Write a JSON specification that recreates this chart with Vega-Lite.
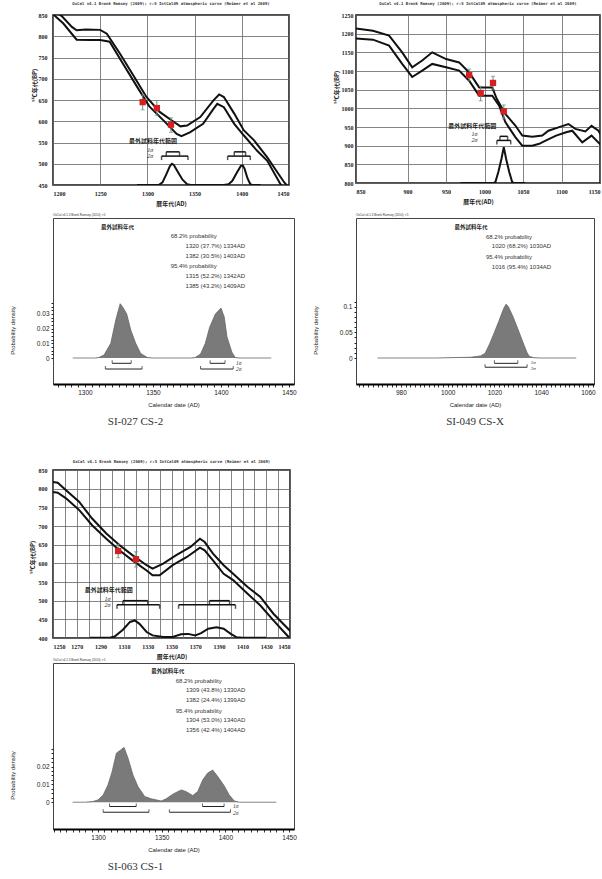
{
"$schema": "https://vega.github.io/schema/vega-lite/v6.json",
"background": "white",
"padding": {"left": 8, "top": 1, "right": 2, "bottom": 2},
"columns": 2,
"spacing": {"row": 0, "column": 62},
"align": {"row": "each", "column": "none"},
"bounds": "flush",
"config": {
  "view": {"stroke": "#333"},
  "axis": {"labelColor": "#222", "titleColor": "#222", "tickColor": "#222", "domainColor": "#111", "labelFont": "Liberation Sans", "titleFont": "Liberation Sans", "titleFontWeight": "normal"},
  "title": {"color": "#333"}
},
"datasets": {
  "A_curve": [
    {"x":1200,"y":860,"s":"hi"},{"x":1209,"y":848,"s":"hi"},{"x":1220,"y":822,"s":"hi"},{"x":1225,"y":814,"s":"hi"},{"x":1235,"y":816,"s":"hi"},{"x":1250,"y":815,"s":"hi"},{"x":1257,"y":806,"s":"hi"},{"x":1271,"y":759,"s":"hi"},{"x":1285,"y":708,"s":"hi"},{"x":1299,"y":657,"s":"hi"},{"x":1313,"y":622,"s":"hi"},{"x":1327,"y":600,"s":"hi"},{"x":1335,"y":588,"s":"hi"},{"x":1342,"y":590,"s":"hi"},{"x":1356,"y":610,"s":"hi"},{"x":1370,"y":649,"s":"hi"},{"x":1376,"y":663,"s":"hi"},{"x":1381,"y":657,"s":"hi"},{"x":1392,"y":618,"s":"hi"},{"x":1402,"y":579,"s":"hi"},{"x":1413,"y":555,"s":"hi"},{"x":1427,"y":515,"s":"hi"},{"x":1445,"y":456,"s":"hi"},{"x":1449,"y":446,"s":"hi"},
    {"x":1200,"y":852,"s":"lo"},{"x":1211,"y":830,"s":"lo"},{"x":1225,"y":792,"s":"lo"},{"x":1240,"y":791,"s":"lo"},{"x":1250,"y":791,"s":"lo"},{"x":1260,"y":787,"s":"lo"},{"x":1274,"y":736,"s":"lo"},{"x":1288,"y":685,"s":"lo"},{"x":1302,"y":635,"s":"lo"},{"x":1317,"y":602,"s":"lo"},{"x":1331,"y":570,"s":"lo"},{"x":1336,"y":565,"s":"lo"},{"x":1345,"y":574,"s":"lo"},{"x":1359,"y":594,"s":"lo"},{"x":1370,"y":629,"s":"lo"},{"x":1374,"y":641,"s":"lo"},{"x":1381,"y":633,"s":"lo"},{"x":1392,"y":594,"s":"lo"},{"x":1402,"y":567,"s":"lo"},{"x":1416,"y":531,"s":"lo"},{"x":1427,"y":507,"s":"lo"},{"x":1441,"y":452,"s":"lo"},{"x":1443,"y":446,"s":"lo"}
  ],
  "A_dist": [
    {"x":1289,"y":450},{"x":1312,"y":450},{"x":1316,"y":456},{"x":1320,"y":475},{"x":1324,"y":495},{"x":1326,"y":500},{"x":1328,"y":497},{"x":1332,"y":482},{"x":1337,"y":463},{"x":1342,"y":452},{"x":1346,"y":450},{"x":1381,"y":450},{"x":1386,"y":452},{"x":1390,"y":460},{"x":1395,"y":480},{"x":1399,"y":495},{"x":1401,"y":496},{"x":1403,"y":488},{"x":1406,"y":466},{"x":1409,"y":452},{"x":1411,"y":450},{"x":1420,"y":450}
  ],
  "A_br": [{"x":1320,"x2":1334,"y":528},{"x":1392,"x2":1404,"y":528},{"x":1315,"x2":1343,"y":518},{"x":1385,"x2":1409,"y":518}],
  "A_lab": [{"x":1306,"y":553,"t":"最外試料年代範囲"}],
  "A_sig": [{"x":1303,"y":532,"t":"1σ"},{"x":1303,"y":519,"t":"2σ"}],
  "A_err": [{"x":1295,"y":627,"y2":662},{"x":1310,"y":614,"y2":649},{"x":1325,"y":574,"y2":608}],
  "A_pt": [{"x":1295,"y":645},{"x":1310,"y":631},{"x":1325,"y":592}],
  "B_curve": [
    {"x":833,"y":1214,"s":"hi"},{"x":855,"y":1208,"s":"hi"},{"x":876,"y":1195,"s":"hi"},{"x":893,"y":1150,"s":"hi"},{"x":906,"y":1110,"s":"hi"},{"x":919,"y":1128,"s":"hi"},{"x":932,"y":1150,"s":"hi"},{"x":950,"y":1132,"s":"hi"},{"x":967,"y":1123,"s":"hi"},{"x":980,"y":1096,"s":"hi"},{"x":993,"y":1056,"s":"hi"},{"x":1001,"y":1056,"s":"hi"},{"x":1010,"y":1056,"s":"hi"},{"x":1016,"y":1025,"s":"hi"},{"x":1027,"y":985,"s":"hi"},{"x":1040,"y":954,"s":"hi"},{"x":1049,"y":927,"s":"hi"},{"x":1062,"y":924,"s":"hi"},{"x":1075,"y":927,"s":"hi"},{"x":1083,"y":940,"s":"hi"},{"x":1096,"y":949,"s":"hi"},{"x":1109,"y":958,"s":"hi"},{"x":1118,"y":945,"s":"hi"},{"x":1131,"y":938,"s":"hi"},{"x":1139,"y":953,"s":"hi"},{"x":1148,"y":940,"s":"hi"},{"x":1152,"y":925,"s":"hi"},
    {"x":833,"y":1187,"s":"lo"},{"x":855,"y":1184,"s":"lo"},{"x":876,"y":1168,"s":"lo"},{"x":893,"y":1119,"s":"lo"},{"x":906,"y":1084,"s":"lo"},{"x":919,"y":1101,"s":"lo"},{"x":932,"y":1119,"s":"lo"},{"x":950,"y":1110,"s":"lo"},{"x":967,"y":1101,"s":"lo"},{"x":980,"y":1074,"s":"lo"},{"x":993,"y":1034,"s":"lo"},{"x":1010,"y":1034,"s":"lo"},{"x":1019,"y":1007,"s":"lo"},{"x":1027,"y":963,"s":"lo"},{"x":1040,"y":923,"s":"lo"},{"x":1049,"y":900,"s":"lo"},{"x":1062,"y":900,"s":"lo"},{"x":1071,"y":905,"s":"lo"},{"x":1080,"y":914,"s":"lo"},{"x":1093,"y":927,"s":"lo"},{"x":1106,"y":936,"s":"lo"},{"x":1114,"y":940,"s":"lo"},{"x":1127,"y":909,"s":"lo"},{"x":1139,"y":927,"s":"lo"},{"x":1152,"y":900,"s":"lo"}
  ],
  "B_dist": [{"x":969,"y":800},{"x":1012,"y":800},{"x":1014,"y":802},{"x":1018,"y":830},{"x":1022,"y":865},{"x":1025,"y":896},{"x":1028,"y":865},{"x":1032,"y":830},{"x":1036,"y":802},{"x":1038,"y":800},{"x":1053,"y":800}],
  "B_br": [{"x":1020,"x2":1030,"y":925},{"x":1016,"x2":1034,"y":914}],
  "B_lab": [{"x":984,"y":953,"t":"最外試料年代範囲"}],
  "B_sig": [{"x":987,"y":931,"t":"1σ"},{"x":987,"y":914,"t":"2σ"}],
  "B_err": [{"x":980,"y":1074,"y2":1105},{"x":995,"y":1020,"y2":1059},{"x":1011,"y":1050,"y2":1086},{"x":1025,"y":972,"y2":1009}],
  "B_pt": [{"x":980,"y":1089},{"x":995,"y":1041},{"x":1011,"y":1068},{"x":1025,"y":992}],
  "E_curve": [
    {"x":1248,"y":819,"s":"hi"},{"x":1254,"y":816,"s":"hi"},{"x":1261,"y":796,"s":"hi"},{"x":1272,"y":765,"s":"hi"},{"x":1283,"y":720,"s":"hi"},{"x":1295,"y":680,"s":"hi"},{"x":1306,"y":649,"s":"hi"},{"x":1317,"y":622,"s":"hi"},{"x":1329,"y":595,"s":"hi"},{"x":1334,"y":586,"s":"hi"},{"x":1343,"y":599,"s":"hi"},{"x":1354,"y":622,"s":"hi"},{"x":1366,"y":644,"s":"hi"},{"x":1374,"y":666,"s":"hi"},{"x":1378,"y":657,"s":"hi"},{"x":1385,"y":626,"s":"hi"},{"x":1394,"y":595,"s":"hi"},{"x":1402,"y":572,"s":"hi"},{"x":1414,"y":537,"s":"hi"},{"x":1425,"y":510,"s":"hi"},{"x":1436,"y":465,"s":"hi"},{"x":1451,"y":416,"s":"hi"},
    {"x":1248,"y":792,"s":"lo"},{"x":1254,"y":789,"s":"lo"},{"x":1261,"y":774,"s":"lo"},{"x":1272,"y":743,"s":"lo"},{"x":1283,"y":702,"s":"lo"},{"x":1295,"y":666,"s":"lo"},{"x":1306,"y":635,"s":"lo"},{"x":1317,"y":608,"s":"lo"},{"x":1329,"y":581,"s":"lo"},{"x":1334,"y":568,"s":"lo"},{"x":1340,"y":568,"s":"lo"},{"x":1351,"y":595,"s":"lo"},{"x":1363,"y":617,"s":"lo"},{"x":1374,"y":642,"s":"lo"},{"x":1378,"y":635,"s":"lo"},{"x":1385,"y":608,"s":"lo"},{"x":1394,"y":572,"s":"lo"},{"x":1402,"y":555,"s":"lo"},{"x":1414,"y":519,"s":"lo"},{"x":1425,"y":487,"s":"lo"},{"x":1436,"y":447,"s":"lo"},{"x":1449,"y":402,"s":"lo"}
  ],
  "E_dist": [{"x":1281,"y":401},{"x":1298,"y":401},{"x":1302,"y":404},{"x":1309,"y":422},{"x":1315,"y":443},{"x":1319,"y":447},{"x":1323,"y":438},{"x":1329,"y":416},{"x":1334,"y":407},{"x":1343,"y":403},{"x":1351,"y":403},{"x":1358,"y":410},{"x":1364,"y":411},{"x":1370,"y":407},{"x":1375,"y":413},{"x":1381,"y":425},{"x":1388,"y":429},{"x":1394,"y":425},{"x":1400,"y":411},{"x":1405,"y":402},{"x":1410,"y":401},{"x":1430,"y":401}],
  "E_br": [{"x":1309,"x2":1330,"y":500},{"x":1382,"x2":1399,"y":500},{"x":1304,"x2":1340,"y":489},{"x":1356,"x2":1404,"y":489}],
  "E_lab": [{"x":1297,"y":529,"t":"最外試料年代範囲"}],
  "E_sig": [{"x":1296,"y":504,"t":"1σ"},{"x":1296,"y":489,"t":"2σ"}],
  "E_err": [{"x":1305,"y":615,"y2":651},{"x":1320,"y":590,"y2":631}],
  "E_pt": [{"x":1305,"y":633},{"x":1320,"y":611}],
  "C_den": [{"x":1291,"y":0},{"x":1308,"y":0},{"x":1310.5,"y":0.0005},{"x":1314,"y":0.002},{"x":1319,"y":0.01},{"x":1322.7,"y":0.026},{"x":1325.9,"y":0.037},{"x":1327.6,"y":0.035},{"x":1330.7,"y":0.03},{"x":1333.7,"y":0.019},{"x":1337.3,"y":0.01},{"x":1341,"y":0.003},{"x":1346,"y":0.0003},{"x":1350,"y":0},{"x":1378,"y":0},{"x":1381,"y":0.0003},{"x":1385,"y":0.0027},{"x":1388.5,"y":0.01},{"x":1391.7,"y":0.021},{"x":1395.9,"y":0.03},{"x":1400,"y":0.034},{"x":1402.4,"y":0.028},{"x":1404.4,"y":0.0145},{"x":1408,"y":0.004},{"x":1410.5,"y":0.0003},{"x":1414,"y":0},{"x":1437,"y":0}],
  "C_br": [{"x":1320,"x2":1334,"y":-0.0036},{"x":1392,"x2":1403,"y":-0.0036},{"x":1315,"x2":1342,"y":-0.0075},{"x":1385,"x2":1409,"y":-0.0075}],
  "C_sig": [{"x":1411,"y":-0.0033,"t":"1σ"},{"x":1411,"y":-0.0078,"t":"2σ"}],
  "C_head": [{"x":1324,"y":0.0893,"t":"最外試料年代"}],
  "C_info": [{"x":1363,"y":0.0832,"t":"68.2% probability"},{"x":1374,"y":0.0766,"t":"1320 (37.7%) 1334AD"},{"x":1374,"y":0.0697,"t":"1382 (30.5%) 1403AD"},{"x":1363,"y":0.0629,"t":"95.4% probability"},{"x":1374,"y":0.056,"t":"1315 (52.2%) 1342AD"},{"x":1374,"y":0.049,"t":"1385 (43.2%) 1409AD"}],
  "C_top": [{"x":1276.5,"y":0.0954,"t":"OxCal v4.1.3 Bronk Ramsey (2010); r:5"}],
  "D_den": [{"x":970,"y":0},{"x":995,"y":0},{"x":1000,"y":0.0005},{"x":1010,"y":0.0015},{"x":1014,"y":0.004},{"x":1016,"y":0.009},{"x":1018,"y":0.028},{"x":1020,"y":0.05},{"x":1022,"y":0.073},{"x":1024,"y":0.097},{"x":1025,"y":0.105},{"x":1026,"y":0.1},{"x":1028,"y":0.08},{"x":1030,"y":0.057},{"x":1032,"y":0.033},{"x":1034,"y":0.01},{"x":1035,"y":0.003},{"x":1037,"y":0.0005},{"x":1040,"y":0},{"x":1055,"y":0}],
  "D_br": [{"x":1020,"x2":1030,"y":-0.0104},{"x":1016,"x2":1034,"y":-0.018}],
  "D_sig": [{"x":1035.5,"y":-0.0085,"t":"1σ"},{"x":1035.5,"y":-0.0195,"t":"2σ"}],
  "D_head": [{"x":1010,"y":0.256,"t":"最外試料年代"}],
  "D_info": [{"x":1016.4,"y":0.236,"t":"68.2% probability"},{"x":1018.9,"y":0.218,"t":"1020 (68.2%) 1030AD"},{"x":1016.4,"y":0.197,"t":"95.4% probability"},{"x":1018.9,"y":0.178,"t":"1016 (95.4%) 1034AD"}],
  "D_top": [{"x":960.8,"y":0.273,"t":"OxCal v4.1.3 Bronk Ramsey (2010); r:5"}],
  "F_den": [{"x":1280,"y":0},{"x":1290,"y":0},{"x":1296,"y":0.0004},{"x":1300,"y":0.0013},{"x":1304,"y":0.004},{"x":1307.8,"y":0.0097},{"x":1311,"y":0.017},{"x":1314.4,"y":0.0275},{"x":1317.8,"y":0.0293},{"x":1320.4,"y":0.0307},{"x":1323.5,"y":0.0247},{"x":1327.4,"y":0.0153},{"x":1331.3,"y":0.0088},{"x":1336.6,"y":0.0032},{"x":1341.8,"y":0.0019},{"x":1349.6,"y":0.0007},{"x":1353.5,"y":0.0019},{"x":1358.7,"y":0.0045},{"x":1365.3,"y":0.0069},{"x":1369,"y":0.006},{"x":1374.4,"y":0.0037},{"x":1378.3,"y":0.006},{"x":1382.2,"y":0.0125},{"x":1386,"y":0.0163},{"x":1390,"y":0.018},{"x":1394,"y":0.0144},{"x":1399,"y":0.0093},{"x":1403,"y":0.0041},{"x":1407,"y":0.0007},{"x":1411,"y":0},{"x":1440,"y":0}],
  "F_br": [{"x":1309,"x2":1330,"y":-0.0024},{"x":1382,"x2":1399,"y":-0.0024},{"x":1304,"x2":1340,"y":-0.0056},{"x":1356,"x2":1404,"y":-0.0056}],
  "F_sig": [{"x":1406,"y":-0.0021,"t":"1σ"},{"x":1406,"y":-0.0059,"t":"2σ"}],
  "F_head": [{"x":1354.8,"y":0.0733,"t":"最外試料年代"}],
  "F_info": [{"x":1361,"y":0.068,"t":"68.2% probability"},{"x":1369,"y":0.0628,"t":"1309 (43.8%) 1330AD"},{"x":1369,"y":0.057,"t":"1382 (24.4%) 1399AD"},{"x":1361,"y":0.0512,"t":"95.4% probability"},{"x":1369,"y":0.0458,"t":"1304 (53.0%) 1340AD"},{"x":1369,"y":0.0402,"t":"1356 (42.4%) 1404AD"}],
  "F_top": [{"x":1264.6,"y":0.078,"t":"OxCal v4.1.3 Bronk Ramsey (2010); r:5"}]
},
"concat": [
  {
    "width": 236, "height": 170,
    "view": {"stroke": "#111", "strokeWidth": 1.5},
    "title": {"text": "OxCal v4.1 Bronk Ramsey (2009); r:5 IntCal09 atmospheric curve (Reimer et al 2009)", "fontSize": 4, "font": "DejaVu Sans Mono", "fontWeight": "bold", "offset": 6, "color": "#333"},
    "encoding": {
      "x": {"field": "x", "type": "quantitative", "scale": {"domain": [1200, 1450], "nice": false, "zero": false}, "axis": {"values": [1200,1250,1300,1350,1400,1450], "format": "d", "grid": true, "gridColor": "#666", "gridWidth": 0.8, "tickSize": 0, "domain": false, "labelFont": "Liberation Serif", "labelFontSize": 6, "labelFontWeight": "bold", "labelPadding": 5, "title": "暦年代(AD)", "titleFont": "Noto Sans CJK JP", "titleFontSize": 6, "titleFontWeight": "bold", "titlePadding": 4}},
      "y": {"field": "y", "type": "quantitative", "scale": {"domain": [450, 850], "nice": false, "zero": false}, "axis": {"values": [450,500,550,600,650,700,750,800,850], "format": "d", "grid": true, "gridColor": "#666", "gridWidth": 0.8, "tickSize": 0, "domain": false, "labelFont": "Liberation Serif", "labelFontSize": 6, "labelFontWeight": "bold", "labelPadding": 6, "title": "¹⁴C年代(BP)", "titleFont": "Noto Sans CJK JP", "titleFontSize": 6, "titleFontWeight": "bold", "titleX": -16, "titleY": 70}}
    },
    "layer": [
      {"data": {"name": "A_curve"}, "mark": {"type": "line", "color": "#111", "strokeWidth": 2, "clip": true}, "encoding": {"detail": {"field": "s"}}},
      {"data": {"name": "A_dist"}, "mark": {"type": "line", "color": "#111", "strokeWidth": 2, "clip": true}},
      {"data": {"name": "A_br"}, "mark": {"type": "rule", "color": "#111", "strokeWidth": 1.5}, "encoding": {"x2": {"field": "x2"}}},
      {"data": {"name": "A_br"}, "transform": [{"fold": ["x", "x2"], "as": ["k", "x"]}], "mark": {"type": "tick", "orient": "vertical", "size": 4, "thickness": 1.5, "yOffset": 2, "color": "#111"}},
      {"data": {"name": "A_lab"}, "mark": {"type": "text", "font": "Noto Sans CJK JP", "fontSize": 6, "fontWeight": "bold", "color": "#222"}, "encoding": {"text": {"field": "t"}}},
      {"data": {"name": "A_sig"}, "mark": {"type": "text", "font": "Liberation Serif", "fontStyle": "italic", "fontSize": 6, "color": "#222"}, "encoding": {"text": {"field": "t"}}},
      {"data": {"name": "A_err"}, "mark": {"type": "rule", "color": "#5f8f80", "strokeWidth": 1}, "encoding": {"y2": {"field": "y2"}}},
      {"data": {"name": "A_err"}, "transform": [{"fold": ["y", "y2"], "as": ["k", "y"]}], "mark": {"type": "tick", "orient": "horizontal", "size": 4, "thickness": 1, "color": "#5f8f80"}},
      {"data": {"name": "A_pt"}, "mark": {"type": "square", "color": "#d42020", "size": 40, "opacity": 1, "filled": true}}
    ]
  },
  {
    "width": 244, "height": 168,
    "view": {"stroke": "#111", "strokeWidth": 1.5},
    "title": {"text": "OxCal v4.1 Bronk Ramsey (2009); r:5 IntCal09 atmospheric curve (Reimer et al 2009)", "fontSize": 4, "font": "DejaVu Sans Mono", "fontWeight": "bold", "offset": 6, "color": "#333"},
    "encoding": {
      "x": {"field": "x", "type": "quantitative", "scale": {"domain": [833, 1150], "nice": false, "zero": false}, "axis": {"values": [833,900,950,1000,1050,1100,1150], "labelExpr": "datum.value < 850 ? '850' : datum.label", "format": "d", "grid": true, "gridColor": "#666", "gridWidth": 0.8, "tickSize": 0, "domain": false, "labelFont": "Liberation Serif", "labelFontSize": 6, "labelFontWeight": "bold", "labelPadding": 5, "title": "暦年代(AD)", "titleFont": "Noto Sans CJK JP", "titleFontSize": 6, "titleFontWeight": "bold", "titlePadding": 4}},
      "y": {"field": "y", "type": "quantitative", "scale": {"domain": [800, 1250], "nice": false, "zero": false}, "axis": {"values": [800,850,900,950,1000,1050,1100,1150,1200,1250], "format": "d", "grid": true, "gridColor": "#666", "gridWidth": 0.8, "tickSize": 0, "domain": false, "labelFont": "Liberation Serif", "labelFontSize": 6, "labelFontWeight": "bold", "labelPadding": 3, "title": "¹⁴C年代(BP)", "titleFont": "Noto Sans CJK JP", "titleFontSize": 6, "titleFontWeight": "bold", "titleX": -17, "titleY": 72}}
    },
    "layer": [
      {"data": {"name": "B_curve"}, "mark": {"type": "line", "color": "#111", "strokeWidth": 2, "clip": true}, "encoding": {"detail": {"field": "s"}}},
      {"data": {"name": "B_dist"}, "mark": {"type": "line", "color": "#111", "strokeWidth": 2, "clip": true}},
      {"data": {"name": "B_br"}, "mark": {"type": "rule", "color": "#111", "strokeWidth": 1.5}, "encoding": {"x2": {"field": "x2"}}},
      {"data": {"name": "B_br"}, "transform": [{"fold": ["x", "x2"], "as": ["k", "x"]}], "mark": {"type": "tick", "orient": "vertical", "size": 4, "thickness": 1.5, "yOffset": 2, "color": "#111"}},
      {"data": {"name": "B_lab"}, "mark": {"type": "text", "font": "Noto Sans CJK JP", "fontSize": 6, "fontWeight": "bold", "color": "#222"}, "encoding": {"text": {"field": "t"}}},
      {"data": {"name": "B_sig"}, "mark": {"type": "text", "font": "Liberation Serif", "fontStyle": "italic", "fontSize": 6, "color": "#222"}, "encoding": {"text": {"field": "t"}}},
      {"data": {"name": "B_err"}, "mark": {"type": "rule", "color": "#5f8f80", "strokeWidth": 1}, "encoding": {"y2": {"field": "y2"}}},
      {"data": {"name": "B_err"}, "transform": [{"fold": ["y", "y2"], "as": ["k", "y"]}], "mark": {"type": "tick", "orient": "horizontal", "size": 4, "thickness": 1, "color": "#5f8f80"}},
      {"data": {"name": "B_pt"}, "mark": {"type": "square", "color": "#d42020", "size": 40, "opacity": 1, "filled": true}}
    ]
  },
  {"width": 1, "height": 33, "view": {"stroke": null}, "data": {"values": []}, "mark": "point"},
  {"width": 1, "height": 33, "view": {"stroke": null}, "data": {"values": []}, "mark": "point"},
  {
    "width": 241, "height": 166,
    "view": {"stroke": "#444", "strokeWidth": 1},
    "title": {"text": "SI-027 CS-2", "orient": "bottom", "font": "Liberation Serif", "fontSize": 11, "fontWeight": "normal", "color": "#333", "offset": 8, "dx": -38},
    "encoding": {
      "x": {"field": "x", "type": "quantitative", "scale": {"domain": [1276.5, 1453.7], "nice": false, "zero": false}, "axis": {"values": [1280,1285,1290,1295,1300,1305,1310,1315,1320,1325,1330,1335,1340,1345,1350,1355,1360,1365,1370,1375,1380,1385,1390,1395,1400,1405,1410,1415,1420,1425,1430,1435,1440,1445,1450], "labelExpr": "datum.value % 50 == 0 ? datum.label : ''", "format": "d", "grid": false, "tickSize": 3, "tickColor": "#333", "domainWidth": 2, "domainColor": "#000", "labelFontSize": 6.5, "labelPadding": 2, "title": "Calendar date (AD)", "titleFontSize": 6, "titlePadding": 6}},
      "y": {"field": "y", "type": "quantitative", "scale": {"domain": [-0.0177, 0.0954], "nice": false}, "axis": {"values": [0,0.0025,0.005,0.0075,0.01,0.0125,0.015,0.0175,0.02,0.0225,0.025,0.0275,0.03,0.0325,0.035,0.0375], "labelExpr": "indexof([0,0.01,0.02,0.03], datum.value) >= 0 ? datum.label : ''", "format": "~g", "grid": false, "domain": false, "tickSize": 2, "labelFontSize": 6.5, "labelPadding": 2, "title": "Probability density", "titleFontSize": 6, "titleX": -38, "titleY": 112}}
    },
    "layer": [
      {"data": {"name": "C_den"}, "mark": {"type": "area", "color": "#7a7a7a", "opacity": 1, "line": {"color": "#666", "strokeWidth": 0.8}}, "encoding": {"y2": {"datum": 0}}},
      {"data": {"name": "C_br"}, "mark": {"type": "rule", "color": "#222", "strokeWidth": 1}, "encoding": {"x2": {"field": "x2"}}},
      {"data": {"name": "C_br"}, "transform": [{"fold": ["x", "x2"], "as": ["k", "x"]}], "mark": {"type": "tick", "orient": "vertical", "size": 3, "thickness": 1, "yOffset": -1.5, "color": "#222"}},
      {"data": {"name": "C_sig"}, "mark": {"type": "text", "align": "left", "font": "Liberation Serif", "fontStyle": "italic", "fontSize": 5.5, "color": "#333"}, "encoding": {"text": {"field": "t"}}},
      {"data": {"name": "C_head"}, "mark": {"type": "text", "font": "Noto Sans CJK JP", "fontSize": 5.5, "fontWeight": "bold", "color": "#222"}, "encoding": {"text": {"field": "t"}}},
      {"data": {"name": "C_info"}, "mark": {"type": "text", "align": "left", "font": "Liberation Sans", "fontSize": 6, "color": "#333"}, "encoding": {"text": {"field": "t"}}},
      {"data": {"name": "C_top"}, "mark": {"type": "text", "align": "left", "baseline": "bottom", "dy": -1, "font": "Liberation Sans", "fontSize": 3, "color": "#333"}, "encoding": {"text": {"field": "t"}}}
    ]
  },
  {
    "width": 238, "height": 166,
    "view": {"stroke": "#444", "strokeWidth": 1},
    "title": {"text": "SI-049 CS-X", "orient": "bottom", "font": "Liberation Serif", "fontSize": 11, "fontWeight": "normal", "color": "#333", "offset": 8, "dx": 0},
    "encoding": {
      "x": {"field": "x", "type": "quantitative", "scale": {"domain": [960.8, 1062.6], "nice": false, "zero": false}, "axis": {"values": [962,964,966,968,970,972,974,976,978,980,982,984,986,988,990,992,994,996,998,1000,1002,1004,1006,1008,1010,1012,1014,1016,1018,1020,1022,1024,1026,1028,1030,1032,1034,1036,1038,1040,1042,1044,1046,1048,1050,1052,1054,1056,1058,1060,1062], "labelExpr": "datum.value % 20 == 0 ? datum.label : ''", "format": "d", "grid": false, "tickSize": 3, "tickColor": "#333", "domainWidth": 2, "domainColor": "#000", "labelFontSize": 6.5, "labelPadding": 2, "title": "Calendar date (AD)", "titleFontSize": 6, "titlePadding": 6}},
      "y": {"field": "y", "type": "quantitative", "scale": {"domain": [-0.0507, 0.273], "nice": false}, "axis": {"values": [0,0.01,0.02,0.03,0.04,0.05,0.06,0.07,0.08,0.09,0.1,0.11], "labelExpr": "indexof([0,0.05,0.1], datum.value) >= 0 ? datum.label : ''", "format": "~g", "grid": false, "domain": false, "tickSize": 2, "labelFontSize": 6.5, "labelPadding": 2, "title": "Probability density", "titleFontSize": 6, "titleX": -38, "titleY": 112}}
    },
    "layer": [
      {"data": {"name": "D_den"}, "mark": {"type": "area", "color": "#7a7a7a", "opacity": 1, "line": {"color": "#666", "strokeWidth": 0.8}}, "encoding": {"y2": {"datum": 0}}},
      {"data": {"name": "D_br"}, "mark": {"type": "rule", "color": "#222", "strokeWidth": 1}, "encoding": {"x2": {"field": "x2"}}},
      {"data": {"name": "D_br"}, "transform": [{"fold": ["x", "x2"], "as": ["k", "x"]}], "mark": {"type": "tick", "orient": "vertical", "size": 3, "thickness": 1, "yOffset": -1.5, "color": "#222"}},
      {"data": {"name": "D_sig"}, "mark": {"type": "text", "align": "left", "font": "Liberation Serif", "fontStyle": "italic", "fontSize": 5, "color": "#333"}, "encoding": {"text": {"field": "t"}}},
      {"data": {"name": "D_head"}, "mark": {"type": "text", "font": "Noto Sans CJK JP", "fontSize": 5.5, "fontWeight": "bold", "color": "#222"}, "encoding": {"text": {"field": "t"}}},
      {"data": {"name": "D_info"}, "mark": {"type": "text", "align": "left", "font": "Liberation Sans", "fontSize": 6, "color": "#333"}, "encoding": {"text": {"field": "t"}}},
      {"data": {"name": "D_top"}, "mark": {"type": "text", "align": "left", "baseline": "bottom", "dy": -1, "font": "Liberation Sans", "fontSize": 3, "color": "#333"}, "encoding": {"text": {"field": "t"}}}
    ]
  },
  {"width": 1, "height": 86, "view": {"stroke": null}, "data": {"values": []}, "mark": "point"},
  {"width": 1, "height": 86, "view": {"stroke": null}, "data": {"values": []}, "mark": "point"},
  {
    "width": 237, "height": 168,
    "view": {"stroke": "#111", "strokeWidth": 1.5},
    "title": {"text": "OxCal v4.1 Bronk Ramsey (2009); r:5 IntCal09 atmospheric curve (Reimer et al 2009)", "fontSize": 4, "font": "DejaVu Sans Mono", "fontWeight": "bold", "offset": 3, "color": "#333"},
    "encoding": {
      "x": {"field": "x", "type": "quantitative", "scale": {"domain": [1250, 1450], "nice": false, "zero": false}, "axis": {"values": [1250,1260,1270,1280,1290,1300,1310,1320,1330,1340,1350,1360,1370,1380,1390,1400,1410,1420,1430,1440,1450], "labelExpr": "(datum.value - 1250) % 20 == 0 ? datum.label : ''", "format": "d", "grid": true, "gridColor": "#666", "gridWidth": 0.8, "tickSize": 0, "domain": false, "labelFont": "Liberation Serif", "labelFontSize": 6, "labelFontWeight": "bold", "labelPadding": 5, "title": "暦年代(AD)", "titleFont": "Noto Sans CJK JP", "titleFontSize": 6, "titleFontWeight": "bold", "titlePadding": 4}},
      "y": {"field": "y", "type": "quantitative", "scale": {"domain": [400, 850], "nice": false, "zero": false}, "axis": {"values": [400,450,500,550,600,650,700,750,800,850], "format": "d", "grid": true, "gridColor": "#666", "gridWidth": 0.8, "tickSize": 0, "domain": false, "labelFont": "Liberation Serif", "labelFontSize": 6, "labelFontWeight": "bold", "labelPadding": 6, "title": "¹⁴C年代(BP)", "titleFont": "Noto Sans CJK JP", "titleFontSize": 6, "titleFontWeight": "bold", "titleX": -18, "titleY": 87}}
    },
    "layer": [
      {"data": {"name": "E_curve"}, "mark": {"type": "line", "color": "#111", "strokeWidth": 2, "clip": true}, "encoding": {"detail": {"field": "s"}}},
      {"data": {"name": "E_dist"}, "mark": {"type": "line", "color": "#111", "strokeWidth": 2, "clip": true}},
      {"data": {"name": "E_br"}, "mark": {"type": "rule", "color": "#111", "strokeWidth": 1.5}, "encoding": {"x2": {"field": "x2"}}},
      {"data": {"name": "E_br"}, "transform": [{"fold": ["x", "x2"], "as": ["k", "x"]}], "mark": {"type": "tick", "orient": "vertical", "size": 4, "thickness": 1.5, "yOffset": 2, "color": "#111"}},
      {"data": {"name": "E_lab"}, "mark": {"type": "text", "font": "Noto Sans CJK JP", "fontSize": 6, "fontWeight": "bold", "color": "#222"}, "encoding": {"text": {"field": "t"}}},
      {"data": {"name": "E_sig"}, "mark": {"type": "text", "font": "Liberation Serif", "fontStyle": "italic", "fontSize": 6, "color": "#222"}, "encoding": {"text": {"field": "t"}}},
      {"data": {"name": "E_err"}, "mark": {"type": "rule", "color": "#5f8f80", "strokeWidth": 1}, "encoding": {"y2": {"field": "y2"}}},
      {"data": {"name": "E_err"}, "transform": [{"fold": ["y", "y2"], "as": ["k", "y"]}], "mark": {"type": "tick", "orient": "horizontal", "size": 4, "thickness": 1, "color": "#5f8f80"}},
      {"data": {"name": "E_pt"}, "mark": {"type": "square", "color": "#d42020", "size": 40, "opacity": 1, "filled": true}}
    ]
  },
  {"width": 1, "height": 1, "view": {"stroke": null}, "data": {"values": []}, "mark": "point"},
  {"width": 1, "height": 25, "view": {"stroke": null}, "data": {"values": []}, "mark": "point"},
  {"width": 1, "height": 25, "view": {"stroke": null}, "data": {"values": []}, "mark": "point"},
  {
    "width": 241, "height": 166,
    "view": {"stroke": "#444", "strokeWidth": 1},
    "title": {"text": "SI-063 CS-1", "orient": "bottom", "font": "Liberation Serif", "fontSize": 11, "fontWeight": "normal", "color": "#333", "offset": 8, "dx": -38},
    "encoding": {
      "x": {"field": "x", "type": "quantitative", "scale": {"domain": [1264.6, 1453.9], "nice": false, "zero": false}, "axis": {"values": [1265,1270,1275,1280,1285,1290,1295,1300,1305,1310,1315,1320,1325,1330,1335,1340,1345,1350,1355,1360,1365,1370,1375,1380,1385,1390,1395,1400,1405,1410,1415,1420,1425,1430,1435,1440,1445,1450], "labelExpr": "datum.value % 50 == 0 ? datum.label : ''", "format": "d", "grid": false, "tickSize": 3, "tickColor": "#333", "domainWidth": 2, "domainColor": "#000", "labelFontSize": 6.5, "labelPadding": 2, "title": "Calendar date (AD)", "titleFontSize": 6, "titlePadding": 6}},
      "y": {"field": "y", "type": "quantitative", "scale": {"domain": [-0.015, 0.078], "nice": false}, "axis": {"values": [0,0.0025,0.005,0.0075,0.01,0.0125,0.015,0.0175,0.02,0.0225,0.025,0.0275,0.03], "labelExpr": "indexof([0,0.01,0.02], datum.value) >= 0 ? datum.label : ''", "format": "~g", "grid": false, "domain": false, "tickSize": 2, "labelFontSize": 6.5, "labelPadding": 2, "title": "Probability density", "titleFontSize": 6, "titleX": -38, "titleY": 112}}
    },
    "layer": [
      {"data": {"name": "F_den"}, "mark": {"type": "area", "color": "#7a7a7a", "opacity": 1, "line": {"color": "#666", "strokeWidth": 0.8}}, "encoding": {"y2": {"datum": 0}}},
      {"data": {"name": "F_br"}, "mark": {"type": "rule", "color": "#222", "strokeWidth": 1}, "encoding": {"x2": {"field": "x2"}}},
      {"data": {"name": "F_br"}, "transform": [{"fold": ["x", "x2"], "as": ["k", "x"]}], "mark": {"type": "tick", "orient": "vertical", "size": 3, "thickness": 1, "yOffset": -1.5, "color": "#222"}},
      {"data": {"name": "F_sig"}, "mark": {"type": "text", "align": "left", "font": "Liberation Serif", "fontStyle": "italic", "fontSize": 5.5, "color": "#333"}, "encoding": {"text": {"field": "t"}}},
      {"data": {"name": "F_head"}, "mark": {"type": "text", "font": "Noto Sans CJK JP", "fontSize": 5.5, "fontWeight": "bold", "color": "#222"}, "encoding": {"text": {"field": "t"}}},
      {"data": {"name": "F_info"}, "mark": {"type": "text", "align": "left", "font": "Liberation Sans", "fontSize": 6, "color": "#333"}, "encoding": {"text": {"field": "t"}}},
      {"data": {"name": "F_top"}, "mark": {"type": "text", "align": "left", "baseline": "bottom", "dy": -1, "font": "Liberation Sans", "fontSize": 3, "color": "#333"}, "encoding": {"text": {"field": "t"}}}
    ]
  },
  {"width": 1, "height": 1, "view": {"stroke": null}, "data": {"values": []}, "mark": "point"}
]
}
